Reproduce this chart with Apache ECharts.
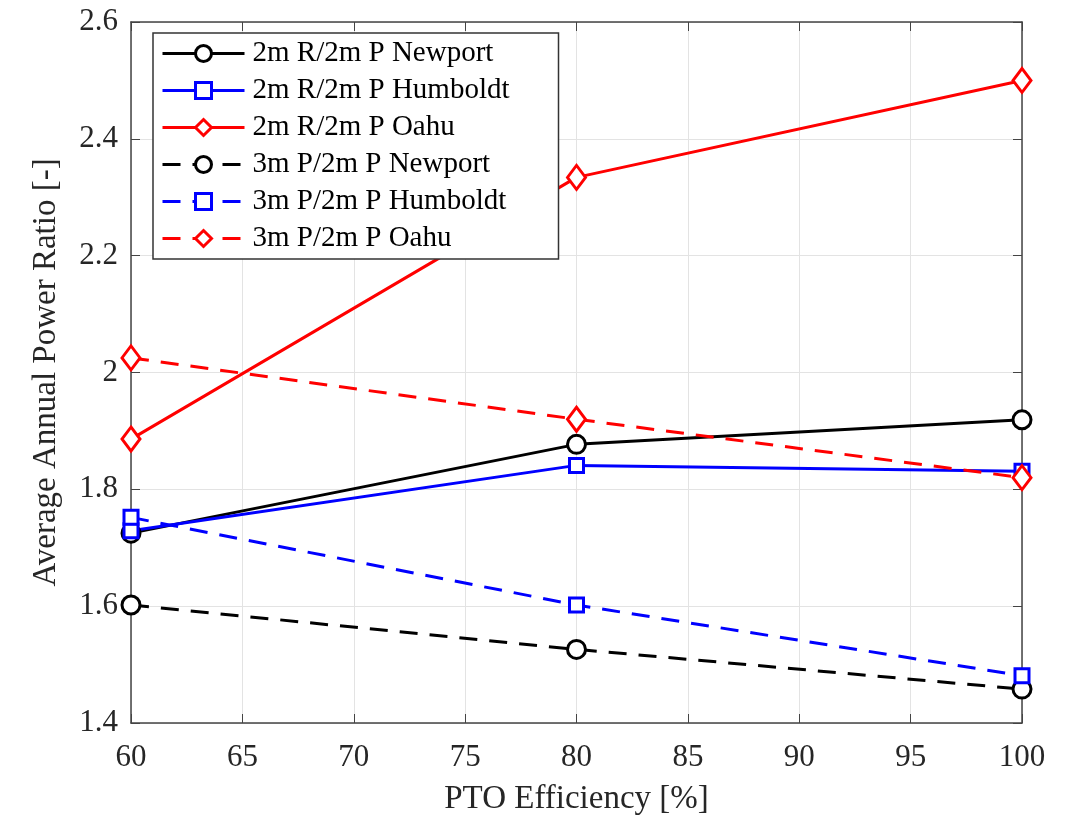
<!DOCTYPE html>
<html><head><meta charset="utf-8">
<script src="https://cdn.jsdelivr.net/npm/echarts@6/dist/echarts.min.js"></script>
<style>html,body{margin:0;padding:0;background:#fff}#c{width:1074px;height:818px}</style>
</head><body><div id="c"></div>
<script>
const efficiency = [60, 80, 100];
const r2Newport   = [1.725, 1.877, 1.919];
const r2Humboldt  = [1.729, 1.841, 1.831];
const r2Oahu      = [1.886, 2.334, 2.500];
const p3Newport   = [1.602, 1.526, 1.458];
const p3Humboldt  = [1.752, 1.602, 1.481];
const p3Oahu      = [2.025, 1.920, 1.820];
const xTicks = {min: 60, max: 100, step: 5};
const yTicks = {min: 1.4, max: 2.6, step: 0.2};

const FONT = 'Liberation Serif';
const axisColor = '#444';
function pts(v){ return efficiency.map((x,i)=>[x, v[i]]); }
function mk(name, data, color, dashed, symbol, size){
  return {
    name, type:'line', data: pts(data), symbol, symbolSize: size,
    showSymbol: true,
    lineStyle:{color, width:3, type: dashed ? [18,12] : 'solid'},
    itemStyle:{color:'#fff', borderColor: color, borderWidth:3},
    emphasis:{disabled:true}, z: 3
  };
}
const series = [
  mk('2m R/2m P Newport', r2Newport, '#000', false, 'circle', 18),
  mk('2m R/2m P Humboldt', r2Humboldt, '#0000ff', false, 'rect', 14),
  mk('2m R/2m P Oahu', r2Oahu, '#ff0000', false, 'diamond', [18,24]),
  mk('3m P/2m P Newport', p3Newport, '#000', true, 'circle', 18),
  mk('3m P/2m P Humboldt', p3Humboldt, '#0000ff', true, 'rect', 14),
  mk('3m P/2m P Oahu', p3Oahu, '#ff0000', true, 'diamond', [18,24])
];
const chart = echarts.init(document.getElementById('c'), null, {renderer:'canvas'});
const baseX = {
  type:'value', min: xTicks.min, max: xTicks.max, interval: xTicks.step,
  axisLine:{show:true, lineStyle:{color:axisColor, width:1.5}},
  axisTick:{show:true, inside:true, length:9, lineStyle:{color:axisColor}},
  splitLine:{show:false}
};
const baseY = {
  type:'value', min: yTicks.min, max: yTicks.max, interval: yTicks.step,
  axisLine:{show:true, lineStyle:{color:axisColor, width:1.5}},
  axisTick:{show:true, inside:true, length:9, lineStyle:{color:axisColor}},
  splitLine:{show:false}
};
chart.setOption({
  animation:false,
  backgroundColor:'#fff',
  grid:{left:131, right:52, top:22, bottom:95, containLabel:false, outerBoundsMode:'none'},
  legend:{
    left:153, top:33, orient:'vertical',
    backgroundColor:'#fff', borderColor:'#333', borderWidth:1.5,
    padding:[6, 49, 6, 8],
    itemWidth:82, itemHeight:20, itemGap:8,
    lineStyle:{width:3},
    itemStyle:{borderWidth:3},
    textStyle:{fontFamily:FONT, fontSize:29, color:'#000', padding:[0,0,0,3]},
    data: series.map(s=>s.name)
  },
  xAxis:[
    Object.assign({}, baseX, {
      position:'bottom',
      axisLabel:{fontFamily:FONT, fontSize:31, color:'#262626', margin:19},
      name:'PTO Efficiency [%]', nameLocation:'middle', nameGap:60,
      nameTextStyle:{fontFamily:FONT, fontSize:33, color:'#262626'},
      splitLine:{show:true, lineStyle:{color:'#e3e3e3', width:1}}
    }),
    Object.assign({}, baseX, {position:'top', axisLabel:{show:false}})
  ],
  yAxis:[
    Object.assign({}, baseY, {
      position:'left',
      axisLabel:{fontFamily:FONT, fontSize:31, color:'#262626', margin:13},
      name:'Average Annual Power Ratio [-]', nameLocation:'middle', nameGap:68,
      nameTextStyle:{fontFamily:FONT, fontSize:33, color:'#262626'},
      splitLine:{show:true, lineStyle:{color:'#e3e3e3', width:1}}
    }),
    Object.assign({}, baseY, {position:'right', axisLabel:{show:false}})
  ],
  series
});
</script></body></html>
